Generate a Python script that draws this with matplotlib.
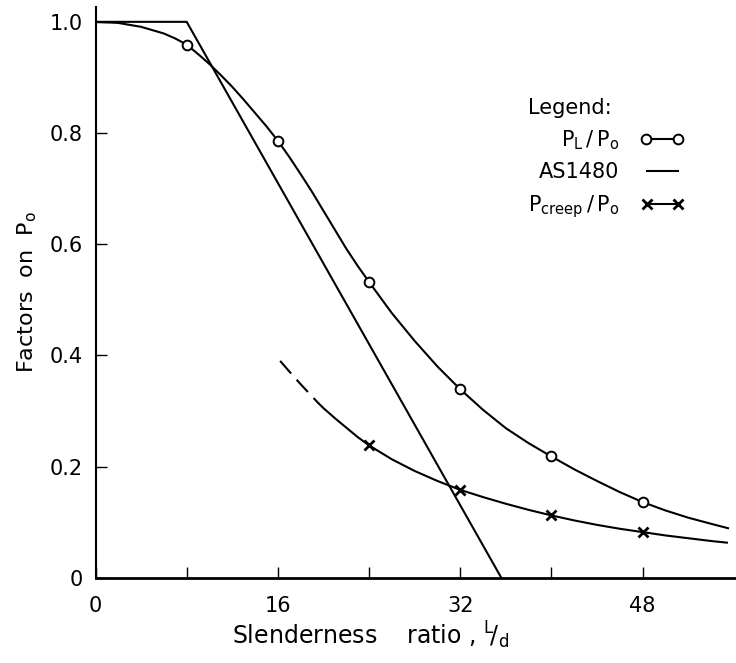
import numpy as np
import matplotlib.pyplot as plt
from matplotlib.lines import Line2D

plt.rcParams['font.family'] = 'DejaVu Sans'
plt.rcParams['mathtext.default'] = 'regular'

pl_x = [0, 2, 4, 6, 7, 8, 9, 10, 11, 12, 13, 14, 15, 16, 17, 18, 19, 20, 21, 22, 23,
        24, 26, 28, 30, 32, 34, 36, 38, 40, 42, 44, 46, 48, 50, 52, 54, 55.5]
pl_y = [1.0, 0.998, 0.991, 0.979, 0.970, 0.959, 0.942, 0.924, 0.904, 0.883, 0.860,
        0.836, 0.812, 0.786, 0.757, 0.726, 0.694, 0.660, 0.626, 0.592, 0.561, 0.532,
        0.476, 0.426, 0.380, 0.339, 0.302, 0.269, 0.242, 0.218, 0.195, 0.174, 0.154,
        0.136, 0.121, 0.108, 0.097, 0.089]
pl_mark_x = [8, 16, 24, 32, 40, 48]
pl_mark_y = [0.959, 0.786, 0.532, 0.339, 0.218, 0.136]

# AS1480 line
as_x = [0, 8, 35.6]
as_y = [1.0, 1.0, 0.0]

# P_creep / P_o curve: dashed start, then solid
creep_dash_x = [16.2, 17, 18, 19, 19.6]
creep_dash_y = [0.390, 0.371, 0.348, 0.326, 0.313]
creep_x = [19.6, 20, 21, 22, 23, 24, 26, 28, 30, 32, 34, 36, 38, 40, 42, 44, 46, 48,
           50, 52, 54, 55.4]
creep_y = [0.313, 0.305, 0.287, 0.270, 0.253, 0.238, 0.213, 0.192, 0.174, 0.158,
           0.145, 0.133, 0.122, 0.112, 0.103, 0.095, 0.088, 0.082, 0.076, 0.071,
           0.066, 0.063]
creep_mark_x = [24, 32, 40, 48]
creep_mark_y = [0.238, 0.158, 0.112, 0.082]

x_major = [0, 16, 32, 48]
x_minor = [8, 24, 40]
y_ticks = [0, 0.2, 0.4, 0.6, 0.8, 1.0]
y_labels = ['0', '0.2', '0.4', '0.6', '0.8', '1.0']

fig = plt.figure(figsize=(7.36, 6.63), dpi=100)
ax = fig.add_axes([0.1298, 0.1287, 0.8702, 0.861])

lw = 1.5
ax.plot(as_x, as_y, 'k-', lw=lw)
ax.plot(pl_x, pl_y, 'k-', lw=lw)
ax.plot(pl_mark_x, pl_mark_y, 'o', ms=7, mfc='white', mec='k', mew=1.4)
ax.plot(creep_dash_x, creep_dash_y, 'k-', lw=lw, dashes=(8, 4))
ax.plot(creep_x, creep_y, 'k-', lw=lw)
ax.plot(creep_mark_x, creep_mark_y, 'kx', ms=7, mew=2)

ax.set_xlim(0, 56.2)
ax.set_ylim(0, 1.027)
ax.set_xticks(x_major)
ax.set_xticks(x_minor, minor=True)
ax.set_yticks(y_ticks)
ax.set_yticklabels(y_labels)
ax.tick_params(which='both', direction='in', length=8, width=1, labelsize=15)
ax.tick_params(axis='x', pad=13)
ax.tick_params(axis='y', pad=9)
for s in ['top', 'right']:
    ax.spines[s].set_visible(False)
ax.spines['left'].set_linewidth(1.5)
ax.spines['bottom'].set_linewidth(2)

ax.set_xlabel(r'Slenderness    ratio , $^{L}\!/_{d}$', fontsize=17)
ax.xaxis.set_label_coords(0.43, -0.074)
ax.set_ylabel(r'Factors  on  $P_{o}$', fontsize=16, labelpad=8)

handles = [
    Line2D([], [], color='k', lw=lw, marker='o', ms=7, mfc='white', mec='k', mew=1.4),
    Line2D([], [], color='k', lw=lw),
    Line2D([], [], color='k', lw=lw, marker='x', ms=7, mew=2),
]
labels = [r'$P_{L}\,/\,P_{o}$', 'AS1480', r'$P_{creep}\,/\,P_{o}$']
ax.legend(handles, labels, loc='upper right', bbox_to_anchor=(684 / 736, 1 - 98 / 663),
          bbox_transform=fig.transFigure, frameon=False, fontsize=15, title='Legend:',
          title_fontsize=15, alignment='left', markerfirst=False, numpoints=2,
          handlelength=2.1, handletextpad=1.0, labelspacing=0.5, borderpad=0,
          borderaxespad=0)

fig.savefig('out.png', dpi=100)
